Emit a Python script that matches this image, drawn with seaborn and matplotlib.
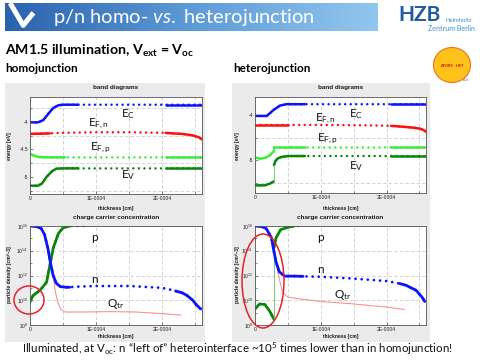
import matplotlib
matplotlib.use("Agg")
import matplotlib.pyplot as plt
import matplotlib.ticker as mticker
from matplotlib.patches import Ellipse, Rectangle
from matplotlib.colors import LinearSegmentedColormap
import seaborn as sns
import numpy as np

# DATA  (thickness in units of 1E-0004 cm, energies in eV, densities as log10)

# homojunction, band diagram
hom_x_ec = [0, 0.12, 0.2, 0.28, 0.35, 0.43, 0.5, 0.73, 2.05, 2.6]
hom_ec = [-4.01, -4.01, -3.97, -3.85, -3.75, -3.70, -3.69, -3.69, -3.69, -3.69]
hom_x_efn = [0, 0.3, 0.5, 1.0, 1.5, 2.0, 2.05, 2.15, 2.3, 2.4, 2.47, 2.55, 2.6]
hom_efn = [-4.22, -4.21, -4.20, -4.19, -4.19, -4.20, -4.20, -4.21, -4.22, -4.235, -4.25, -4.28, -4.32]
hom_x_efp = [0, 0.05, 0.13, 0.3, 0.53, 2.05, 2.6]
hom_efp = [-4.58, -4.61, -4.64, -4.645, -4.645, -4.645, -4.645]
hom_x_ev = [0, 0.12, 0.18, 0.25, 0.33, 0.4, 0.5, 0.73, 2.05, 2.6]
hom_ev = [-5.16, -5.16, -5.12, -5.00, -4.90, -4.85, -4.845, -4.845, -4.845, -4.845]

# heterojunction, band diagram (emitter side | absorber side of the interface)
het_x_ec = [0, 0.18, 0.28, 0.38, 0.48, 0.76, 2.07, 2.6]
het_ec = [-4.02, -4.02, -3.89, -3.79, -3.76, -3.76, -3.76, -3.76]
het_x_efn = [0, 0.5, 1.0, 1.8, 2.07, 2.25, 2.4, 2.5, 2.56, 2.6]
het_efn = [-4.22, -4.22, -4.22, -4.23, -4.24, -4.26, -4.28, -4.30, -4.33, -4.37]
het_x_efp_em = [0, 0.08, 0.15, 0.22, 0.29]
het_efp_em = [-4.94, -4.97, -4.95, -4.90, -4.80]
het_x_efp_ab = [0.29, 0.5, 0.76, 2.07, 2.6]
het_efp_ab = [-4.70, -4.70, -4.70, -4.70, -4.70]
het_x_ev_em = [0, 0.15, 0.23, 0.29]
het_ev_em = [-5.56, -5.56, -5.52, -5.47]
het_x_ev_ab = [0.29, 0.31, 0.35, 0.4, 0.5, 0.76, 2.07, 2.6]
het_ev_ab = [-5.11, -5.02, -4.96, -4.93, -4.91, -4.91, -4.91, -4.91]

# homojunction, carrier densities
hom_x_n = [0, 0.1, 0.17, 0.22, 0.27, 0.31, 0.35, 0.4, 0.46, 0.55, 0.6, 0.7, 1.0, 1.5, 2.0, 2.17, 2.2, 2.3, 2.37, 2.46, 2.52, 2.58]
hom_n = [16.0, 15.95, 15.8, 15.3, 14.2, 13.0, 12.0, 11.35, 11.1, 11.05, 11.05, 11.1, 11.15, 11.15, 11.0, 10.8, 10.75, 10.6, 10.4, 10.0, 9.6, 9.3]
hom_x_p = [0, 0.05, 0.15, 0.25, 0.3, 0.35, 0.43, 0.5, 0.6, 0.88, 2.6]
hom_p = [9.9, 10.4, 10.8, 11.45, 12.8, 14.2, 15.4, 15.86, 16.0, 16.0, 16.0]
hom_x_qtr = [0.34, 0.38, 0.42, 0.47, 0.53, 0.8, 1.2, 1.6, 2.0, 2.28]
hom_qtr = [12.3, 10.8, 9.8, 9.25, 9.05, 9.05, 9.08, 9.05, 8.92, 8.8]

# heterojunction, carrier densities
het_x_n = [0, 0.1, 0.17, 0.25, 0.29, 0.32, 0.37, 0.45, 0.6, 0.73, 1.0, 1.5, 2.0, 2.2, 2.3, 2.45, 2.54, 2.58]
het_n = [16.0, 15.95, 15.8, 15.05, 13.9, 13.1, 12.3, 11.95, 11.95, 11.93, 11.9, 11.75, 11.55, 11.35, 11.2, 10.8, 10.25, 9.9]
het_x_p_em = [0, 0.07, 0.15, 0.22, 0.29]
het_p_em = [9.3, 9.7, 9.65, 9.15, 8.45]
het_x_p_ab = [0.29, 0.32, 0.39, 0.5, 0.6, 0.71, 2.6]
het_p_ab = [14.3, 15.05, 15.7, 15.9, 16.0, 16.0, 16.0]
het_x_qtr = [0.3, 0.37, 0.42, 0.5, 0.7, 1.0, 1.5, 2.0, 2.27]
het_qtr = [13.6, 11.7, 10.65, 10.25, 10.1, 9.9, 9.7, 9.45, 9.25]

x_ticks = [0, 1, 2]
x_ticklabels = ["0", "1E-0004", "2E-0004"]

# STYLE

sns.set_style("ticks")
plt.rcParams['font.family'] = ['Lato', 'DejaVu Sans']
plt.rcParams['mathtext.fontset'] = 'custom'
plt.rcParams['mathtext.rm'] = 'Lato'
plt.rcParams['mathtext.it'] = 'Lato:italic'
plt.rcParams['mathtext.bf'] = 'Lato:bold'

C_EC = "#0a14ff"
C_EFN = "#ff1010"
C_EFP = "#3cee3c"
C_EV = "#0a860a"
C_THIN = "#82c882"
C_QTR = "#ff8c8c"
DOT = (0, (0.01, 2.2))
MATLAB = "Liberation Sans"

W, H = 480, 360
fig = plt.figure(figsize=(4.8, 3.6), dpi=100)
fig.patch.set_facecolor("white")


def fx(px):
    return px / W


def fy(py):
    return 1 - py / H


def add_ax(x0, y0, x1, y1):
    return fig.add_axes([fx(x0), fy(y1), (x1 - x0) / W, (y1 - y0) / H])


def line(ax, x, y, color, lw, **kw):
    sns.lineplot(x=x, y=y, ax=ax, color=color, linewidth=lw, estimator=None,
                 sort=False, legend=False, **kw)


def curve(ax, xs, ys, color, lw, dense_to=None, dense_from=None, dots_to=None, log=False):
    x = np.asarray(xs, dtype=float) * 1e-4
    y = np.asarray(ys, dtype=float)
    if log:
        y = 10.0 ** y
    eps = 1e-12
    keep = x <= dots_to * 1e-4 + eps if dots_to is not None else np.ones(len(x), bool)
    line(ax, x[keep], y[keep], color, lw, linestyle=DOT, dash_capstyle="round")
    if dense_to is not None:
        m = x <= dense_to * 1e-4 + eps
        line(ax, x[m], y[m], color, lw, solid_capstyle="round")
    if dense_from is not None:
        m = x >= dense_from * 1e-4 - eps
        line(ax, x[m], y[m], color, lw, solid_capstyle="round")


def style_ax(ax):
    ax.set_facecolor("white")
    ax.set_xlim(0, 2.6e-4)
    ax.set_xticks([t * 1e-4 for t in x_ticks], labels=x_ticklabels)
    ax.xaxis.set_minor_locator(mticker.FixedLocator([0.5e-4, 1.5e-4, 2.5e-4]))
    ax.grid(True, axis="x", which="both", color="#c4c4c4", lw=0.5, ls=(0, (5, 3)))
    ax.tick_params(which="both", direction="in", length=2, width=0.4, color="#333333",
                   labelsize=3.6, pad=1.5, labelfontfamily=MATLAB, labelcolor="#222222")
    ax.tick_params(which="minor", length=1.2)
    for s in ax.spines.values():
        s.set_color("#555555")
        s.set_linewidth(0.6)
    ax.set_xlabel("")
    ax.set_ylabel("")


# BACKGROUND PANELS

fig.add_artist(Rectangle((fx(5), fy(342)), 200 / W, 259 / H, transform=fig.transFigure,
                         fc="#ebebeb", ec="none", zorder=-2))
fig.add_artist(Rectangle((fx(232), fy(342)), 198 / W, 259 / H, transform=fig.transFigure,
                         fc="#ebebeb", ec="none", zorder=-2))

# BAND DIAGRAMS

ax1 = add_ax(30, 97, 202, 194)
curve(ax1, hom_x_ec, hom_ec, C_EC, 1.8, dense_to=0.73, dense_from=2.05)
curve(ax1, hom_x_efn, hom_efn, C_EFN, 1.8, dense_to=0.3, dense_from=2.05)
curve(ax1, hom_x_efp, hom_efp, C_EFP, 1.8, dense_to=0.53, dense_from=2.05)
curve(ax1, hom_x_ev, hom_ev, C_EV, 1.8, dense_to=0.73, dense_from=2.05)
style_ax(ax1)
ax1.set_ylim(-5.31, -3.55)
ax1.set_yticks([-5, -4.5, -4], labels=["-5", "-4.5", "-4"])
ax1.yaxis.set_minor_locator(mticker.FixedLocator([-5.25, -4.75, -4.25, -3.75]))
ax1.grid(True, axis="y", which="minor", color="#c4c4c4", lw=0.5, ls=(0, (5, 3)))

ax2 = add_ax(255, 97, 426, 193)
curve(ax2, het_x_ec, het_ec, C_EC, 1.8, dense_to=0.76, dense_from=2.07)
curve(ax2, het_x_efn, het_efn, C_EFN, 1.8, dense_to=0.5, dense_from=2.07)
curve(ax2, het_x_efp_em, het_efp_em, C_EFP, 1.8, dense_to=0.29)
curve(ax2, het_x_efp_ab, het_efp_ab, C_EFP, 1.8, dense_to=0.76, dense_from=2.07)
line(ax2, np.array([het_x_efp_em[-1], het_x_efp_ab[0]]) * 1e-4,
     [het_efp_em[-1], het_efp_ab[0]], C_EFP, 1.2)
curve(ax2, het_x_ev_em, het_ev_em, C_EV, 1.8, dense_to=0.29)
curve(ax2, het_x_ev_ab, het_ev_ab, C_EV, 1.8, dense_to=0.76, dense_from=2.07)
line(ax2, np.array([het_x_ev_em[-1], het_x_ev_ab[0]]) * 1e-4,
     [het_ev_em[-1], het_ev_ab[0]], C_THIN, 0.8)
style_ax(ax2)
ax2.set_ylim(-5.73, -3.6)
ax2.set_yticks([-5, -4], labels=["-5", "-4"])
ax2.yaxis.set_minor_locator(mticker.FixedLocator([-5.5, -4.5]))
ax2.grid(True, axis="y", which="minor", color="#c4c4c4", lw=0.5, ls=(0, (5, 3)))

# CHARGE CARRIER CONCENTRATION


def style_log(ax):
    ax.set_yscale("log")
    ax.set_ylim(1e8, 1e16)
    ax.yaxis.set_major_locator(mticker.FixedLocator([1e8, 1e10, 1e12, 1e14, 1e16]))
    ax.yaxis.set_major_formatter(mticker.LogFormatterSciNotation())
    ax.yaxis.set_minor_locator(mticker.FixedLocator([1e9, 1e11, 1e13, 1e15]))
    ax.yaxis.set_minor_formatter(mticker.NullFormatter())
    ax.grid(True, axis="y", which="major", color="#c4c4c4", lw=0.5, ls=(0, (5, 3)))


ax3 = add_ax(30, 226, 202, 325)
curve(ax3, hom_x_p, hom_p, C_THIN, 0.9, log=True)
curve(ax3, hom_x_p, hom_p, C_EV, 2.0, dense_to=0.6, dots_to=0.88, log=True)
curve(ax3, hom_x_qtr, hom_qtr, C_QTR, 0.7, dense_to=3, log=True)
curve(ax3, hom_x_n, hom_n, C_EC, 2.0, dense_to=0.6, dense_from=2.2, log=True)
style_ax(ax3)
style_log(ax3)

ax4 = add_ax(255, 226, 426, 325)
curve(ax4, het_x_p_ab, het_p_ab, C_THIN, 0.9, log=True)
curve(ax4, het_x_p_em, het_p_em, C_EV, 2.0, dense_to=0.29, log=True)
line(ax4, np.array([het_x_p_em[-1], het_x_p_ab[0]]) * 1e-4,
     10.0 ** np.array([het_p_em[-1], het_p_ab[0]]), C_THIN, 0.8)
curve(ax4, het_x_p_ab, het_p_ab, C_EV, 2.0, dense_to=0.6, dots_to=0.71, log=True)
curve(ax4, het_x_qtr, het_qtr, C_QTR, 0.7, dense_to=3, log=True)
curve(ax4, het_x_n, het_n, C_EC, 2.0, dense_to=0.73, dense_from=2.2, log=True)
style_ax(ax4)
style_log(ax4)

# PANEL LABELS

small = dict(fontfamily=MATLAB, fontweight="bold", color="#1a1a1a")
for cx, ylx in [(116, 10), (340.5, 237)]:
    fig.text(fx(cx), fy(87.5), "band diagrams", ha="center", va="center", fontsize=4.6, **small)
    fig.text(fx(cx), fy(208.5), "thickness [cm]", ha="center", va="center", fontsize=3.6, **small)
    fig.text(fx(cx), fy(217), "charge carrier concentration", ha="center", va="center", fontsize=4.6, **small)
    fig.text(fx(cx), fy(336.5), "thickness [cm]", ha="center", va="center", fontsize=3.6, **small)
    fig.text(fx(ylx), fy(146), "energy [eV]", ha="center", va="center", rotation=90, fontsize=3.6, **small)
    fig.text(fx(ylx), fy(275), "particle density [cm^-3]", ha="center", va="center", rotation=90,
             fontsize=3.6, **small)

big = dict(fontsize=8.5, color="#111111", ha="left", va="baseline")
fig.text(fx(121), fy(116.7), r"E$_\mathrm{C}$", **big)
fig.text(fx(88), fy(125.7), r"E$_\mathrm{F,n}$", **big)
fig.text(fx(90), fy(150), r"E$_\mathrm{F,p}$", **big)
fig.text(fx(120.7), fy(178.3), r"E$_\mathrm{V}$", **big)
fig.text(fx(349.3), fy(117.3), r"E$_\mathrm{C}$", **big)
fig.text(fx(315), fy(121), r"E$_\mathrm{F,n}$", **big)
fig.text(fx(316.7), fy(141), r"E$_\mathrm{F,p}$", **big)
fig.text(fx(349.3), fy(169.3), r"E$_\mathrm{V}$", **big)
fig.text(fx(90.7), fy(240.7), "p", **big)
fig.text(fx(90.7), fy(282.7), "n", **big)
fig.text(fx(107.3), fy(306.7), r"Q$_\mathrm{tr}$", **big)
fig.text(fx(316.7), fy(241.3), "p", **big)
fig.text(fx(316.7), fy(273.3), "n", **big)
fig.text(fx(334.3), fy(298.3), r"Q$_\mathrm{tr}$", **big)

fig.add_artist(Ellipse((fx(29), fy(300)), 30 / W, 28 / H, transform=fig.transFigure,
                       fill=False, ec="#e8202a", lw=1.1, zorder=10))
fig.add_artist(Ellipse((fx(263), fy(281)), 42 / W, 94 / H, transform=fig.transFigure,
                       fill=False, ec="#e8202a", lw=1.1, zorder=10))

# HEADER

bar = add_ax(5, 3, 378, 31)
grad = np.linspace(0, 1, 256).reshape(1, -1)
bar.imshow(grad, aspect="auto", cmap=LinearSegmentedColormap.from_list("hdr", ["#2a62ae", "#5d9bd6", "#92c6ee"]))
bar.plot([3, 12, 19], [-0.5, 0.3, -0.15], color="white", lw=3.6, solid_joinstyle="round",
         solid_capstyle="butt")
bar.set_xlim(-0.5, 255.5)
bar.set_ylim(0.5, -0.5)
bar.axis("off")
fig.text(fx(53), fy(23), r"p/n homo- $\mathit{vs.}$ heterojunction", color="white", fontsize=14.5,
         ha="left", va="baseline")

fig.text(fx(398), fy(21), "HZB", color="#1f5ca5", fontsize=15, fontweight="bold", ha="left", va="baseline")
fig.text(fx(445), fy(21.5), "Helmholtz", color="#3d8fd1", fontsize=4.2, ha="left", va="baseline")
fig.text(fx(475), fy(31), "Zentrum Berlin", color="#3d8fd1", fontsize=5, ha="right", va="baseline")

fig.text(fx(5), fy(55), r"AM1.5 illumination, $\mathbf{V_{ext}}$ = $\mathbf{V_{oc}}$", fontsize=10.2,
         fontweight="bold", color="black", ha="left", va="baseline")
fig.text(fx(5), fy(72), "homojunction", fontsize=8.5, fontweight="bold", color="black", ha="left", va="baseline")
fig.text(fx(233), fy(72), "heterojunction", fontsize=8.5, fontweight="bold", color="black", ha="left", va="baseline")

fig.add_artist(Ellipse((fx(452), fy(65)), 37 / W, 35 / H, transform=fig.transFigure,
                       fc="#ffc21a", ec="#e8701a", lw=0.8, zorder=3))
fig.text(fx(452), fy(66), "AFORS - HET", color="#d0101a", fontsize=2.8, fontweight="bold",
         ha="center", va="center", zorder=4)
fig.text(fx(466), fy(80), "v2.4", color="#555555", fontsize=2.2, ha="center", va="center", zorder=4)

fig.text(fx(21.5), fy(352.5), "Illuminated, at V$_\\mathrm{oc}$: n \u201cleft of\u201d heterointerface ~10$^5$ "
         "times lower than in homojunction!", fontsize=8.3, color="#111111", ha="left", va="baseline")

plt.savefig("out.png", dpi=100)
